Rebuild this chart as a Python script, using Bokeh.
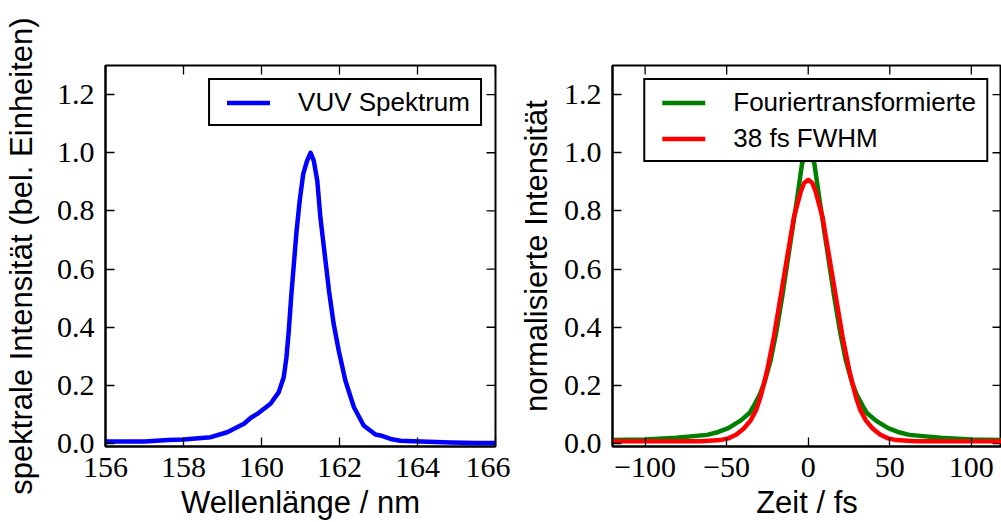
import math
from bokeh.plotting import figure
from bokeh.models import (Range1d, FixedTicker, Legend, LegendItem,
                          NumeralTickFormatter, ColumnDataSource)
from bokeh.layouts import row
from bokeh.embed import file_html
from bokeh.resources import INLINE

# ---------------- data ----------------
wavelength = [156.0, 157.0, 157.6, 158.0, 158.7, 159.12, 159.55, 159.72, 159.89,
              160.23, 160.44, 160.57, 160.64, 160.70, 160.76, 160.83, 160.90,
              160.98, 161.07, 161.17, 161.26, 161.34, 161.43, 161.51, 161.62,
              161.73, 161.85, 161.98, 162.15, 162.37, 162.62, 162.92, 163.05,
              163.31, 163.56, 163.9, 164.85, 165.5, 166.0]
spectrum = [0.007, 0.007, 0.012, 0.014, 0.022, 0.039, 0.068, 0.088, 0.102,
            0.137, 0.176, 0.228, 0.297, 0.389, 0.503, 0.618, 0.732,
            0.836, 0.927, 0.973, 1.0, 0.973, 0.904, 0.778, 0.652,
            0.526, 0.412, 0.320, 0.217, 0.125, 0.062, 0.031, 0.028,
            0.016, 0.010, 0.008, 0.004, 0.002, 0.002]

t_ft = [-120, -100, -81, -62, -55, -49, -41.5, -36, -33.4, -30, -27, -23.1,
        -19.4, -16, -12.9, -9.8, -6.7, -3.7, 0, 3.7, 6.7, 9.8, 12.9, 16, 19.4,
        23.1, 27, 30, 33.4, 36, 41.5, 49, 55, 62, 81, 100, 120]
ft = [0.012, 0.014, 0.020, 0.030, 0.040, 0.053, 0.079, 0.105, 0.130, 0.165,
      0.207, 0.285, 0.389, 0.503, 0.618, 0.732, 0.847, 0.965, 1.0, 0.965,
      0.847, 0.732, 0.618, 0.503, 0.389, 0.285, 0.207, 0.165, 0.130, 0.105,
      0.079, 0.053, 0.040, 0.030, 0.020, 0.014, 0.012]

t_fit = [-120, -90, -66, -54, -49, -44, -39.5, -35.4, -32, -29.3, -25.2, -21.1,
         -17, -12.9, -8.8, -4.7, -2.5, 0, 2.5, 4.7, 8.8, 12.9, 17, 21.1, 25.2,
         29.3, 32, 35.4, 39.5, 44, 49, 54, 66, 90, 120]
fit = [0.008, 0.008, 0.008, 0.012, 0.018, 0.031, 0.052, 0.079, 0.115, 0.159,
       0.251, 0.366, 0.503, 0.641, 0.778, 0.864, 0.896, 0.907, 0.896, 0.864,
       0.778, 0.641, 0.503, 0.366, 0.251, 0.159, 0.115, 0.079, 0.052, 0.031,
       0.018, 0.012, 0.008, 0.008, 0.008]

y_ticks = [0.0, 0.2, 0.4, 0.6, 0.8, 1.0, 1.2]
x1_ticks = [156, 158, 160, 162, 164, 166]
x2_ticks = [-100, -50, 0, 50, 100]
x2_labels = {-100: "\u2212100", -50: "\u221250", 0: "0", 50: "50", 100: "100"}

Y_MIN, Y_MAX = -0.01, 1.3

TICK_FONT = "Liberation Serif"
LABEL_FONT = "Liberation Sans"
TICK_LEN = 9


def style_axis(ax):
    ax.major_tick_in = TICK_LEN
    ax.major_tick_out = 0
    ax.minor_tick_in = 0
    ax.minor_tick_out = 0
    ax.major_tick_line_color = "black"
    ax.major_tick_line_width = 1.3
    ax.axis_line_color = "black"
    ax.axis_line_width = 2
    ax.major_label_text_font = TICK_FONT
    ax.major_label_text_font_size = "30px"
    ax.major_label_text_color = "black"
    ax.axis_label_text_font = LABEL_FONT
    ax.axis_label_text_font_size = "31px"
    ax.axis_label_text_font_style = "normal"
    ax.axis_label_text_color = "black"


def make_fig(width, x0, x1, xticks, min_left, min_right):
    p = figure(width=width, height=522, x_range=Range1d(x0, x1),
               y_range=Range1d(Y_MIN, Y_MAX), output_backend="svg",
               toolbar_location=None, min_border_left=min_left,
               min_border_right=min_right, min_border_top=65,
               min_border_bottom=76)
    p.xgrid.visible = False
    p.ygrid.visible = False
    p.outline_line_color = "black"
    p.outline_line_width = 2
    p.background_fill_color = "white"
    p.border_fill_color = "white"
    p.xaxis.ticker = FixedTicker(ticks=xticks)
    p.yaxis.ticker = FixedTicker(ticks=y_ticks)
    p.yaxis.formatter = NumeralTickFormatter(format="0.0")
    for ax in p.xaxis + p.yaxis:
        style_axis(ax)
    p.xaxis.major_label_standoff = 11
    p.yaxis.major_label_standoff = 11
    # inward ticks on the top and right edges of the frame
    p.ray(x=xticks, y=[Y_MAX] * len(xticks), length=TICK_LEN,
          length_units="screen", angle=-math.pi / 2, line_color="black",
          line_width=1.3)
    p.ray(x=[x1] * len(y_ticks), y=y_ticks, length=TICK_LEN,
          length_units="screen", angle=math.pi, line_color="black",
          line_width=1.3)
    return p


def make_legend(items):
    lg = Legend(items=items, location="top_right")
    lg.label_text_font = LABEL_FONT
    lg.label_text_font_size = "26px"
    lg.label_text_color = "black"
    lg.glyph_width = 43
    lg.glyph_height = 29
    lg.label_height = 29
    lg.label_standoff = 28
    lg.spacing = 5
    lg.margin = 13
    try:
        lg.padding = {"left": 17, "right": 10, "top": 7, "bottom": 6}
    except Exception:
        lg.padding = 10
    lg.border_line_color = "black"
    lg.border_line_alpha = 1.0
    lg.border_line_width = 2
    lg.background_fill_color = "white"
    lg.background_fill_alpha = 1.0
    return lg


# ---------------- left panel ----------------
p1 = make_fig(510, 156, 166, x1_ticks, 105, 15)
src1 = ColumnDataSource(dict(x=wavelength, y=spectrum))
r1 = p1.line("x", "y", source=src1, line_color="#0000ff", line_width=4.5,
             line_join="round", line_cap="round")
p1.below[0].axis_label = "Wellenlänge / nm"
p1.left[0].axis_label = "spektrale Intensität (bel. Einheiten)"
p1.below[0].axis_label_standoff = 5
p1.left[0].axis_label_standoff = 15
p1.add_layout(make_legend([LegendItem(label="VUV Spektrum", renderers=[r1])]))

# ---------------- right panel ----------------
p2 = make_fig(491, -120, 118.5, x2_ticks, 102, 0)
p2.below[0].major_label_overrides = x2_labels
src_ft = ColumnDataSource(dict(x=t_ft, y=ft))
src_fit = ColumnDataSource(dict(x=t_fit, y=fit))
r2 = p2.line("x", "y", source=src_ft, line_color="#008000", line_width=4.5,
             line_join="round", line_cap="round")
r3 = p2.line("x", "y", source=src_fit, line_color="#ff0000", line_width=4.5,
             line_join="round", line_cap="round")
p2.below[0].axis_label = "Zeit / fs"
p2.left[0].axis_label = "normalisierte Intensität"
p2.below[0].axis_label_standoff = 5
p2.left[0].axis_label_standoff = 7
p2.add_layout(make_legend([LegendItem(label="Fouriertransformierte", renderers=[r2]),
                           LegendItem(label="38 fs FWHM", renderers=[r3])]))

layout = row(p1, p2)
open("out.html", "w").write(file_html(layout, INLINE))
